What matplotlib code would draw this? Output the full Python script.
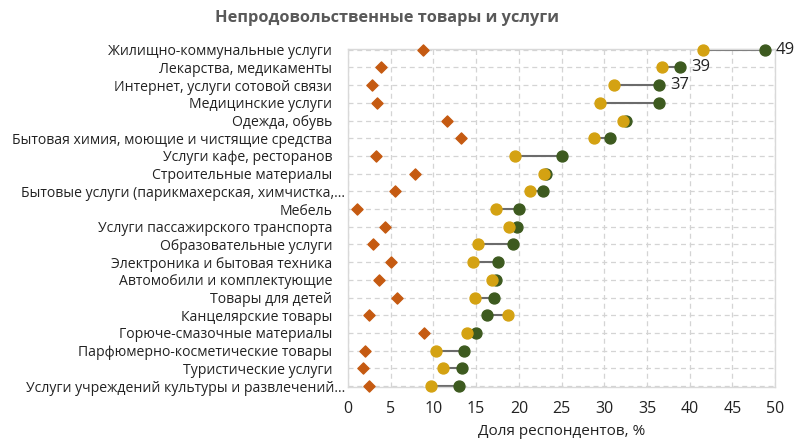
import numpy as np
from matplotlib import pyplot as plt
from matplotlib.transforms import ScaledTranslation

plt.rcParams['font.family'] = ['Open Sans', 'DejaVu Sans']

categories = [
    'Жилищно-коммунальные услуги',
    'Лекарства, медикаменты',
    'Интернет, услуги сотовой связи',
    'Медицинские услуги',
    'Одежда, обувь',
    'Бытовая химия, моющие и чистящие средства',
    'Услуги кафе, ресторанов',
    'Строительные материалы',
    'Бытовые услуги (парикмахерская, химчистка,…',
    'Мебель',
    'Услуги пассажирского транспорта',
    'Образовательные услуги',
    'Электроника и бытовая техника',
    'Автомобили и комплектующие',
    'Товары для детей',
    'Канцелярские товары',
    'Горюче-смазочные материалы',
    'Парфюмерно-косметические товары',
    'Туристические услуги',
    'Услуги учреждений культуры и развлечений…',
]

# доли респондентов, %
green_vals = [48.8, 38.9, 36.4, 36.4, 32.5, 30.7, 25.0, 23.2, 22.8, 20.0,
              19.8, 19.3, 17.6, 17.3, 17.1, 16.25, 15.0, 13.6, 13.4, 13.0]
yellow_vals = [41.5, 36.7, 31.1, 29.5, 32.2, 28.75, 19.6, 22.9, 21.25, 17.3,
               18.9, 15.2, 14.6, 16.8, 14.9, 18.7, 13.9, 10.3, 11.1, 9.7]
orange_vals = [8.8, 3.9, 2.8, 3.4, 11.6, 13.2, 3.3, 7.9, 5.5, 1.1,
               4.3, 2.9, 5.0, 3.6, 5.7, 2.4, 8.9, 2.0, 1.8, 2.4]
value_labels = {0: '49', 1: '39', 2: '37'}

c_green = '#3d5a1f'
c_yellow = '#d4a212'
c_orange = '#c55a11'
c_line = '#6b6b6b'

fig = plt.figure(figsize=(8, 4.4), dpi=100)
ax = fig.add_axes([0.435, 0.1205, 0.534, 0.7685])

y = np.arange(len(categories))

for i in y:
    ax.plot([yellow_vals[i], green_vals[i]], [i, i], color=c_line, lw=1.5,
            zorder=2, clip_on=False)
ax.scatter(orange_vals, y, marker='D', s=32, color=c_orange, zorder=3, clip_on=False)
ax.scatter(green_vals, y, marker='o', s=62, color=c_green, zorder=3, clip_on=False)
ax.scatter(yellow_vals, y, marker='o', s=62, color=c_yellow, zorder=4, clip_on=False)

for i, txt in value_labels.items():
    ax.text(green_vals[i] + 1.3, i, txt, va='center', ha='left', fontsize=12, color='#222222')

ax.set_xlim(0, 50)
ax.set_ylim(19.05, -0.05)
ax.set_xticks(np.arange(0, 51, 5))
ax.set_yticks(y)
ax.set_yticklabels(categories, fontsize=10.1)
ax.tick_params(axis='both', length=0, colors='#222222')
ax.tick_params(axis='x', labelsize=11.5, pad=10)
ax.tick_params(axis='y', pad=11.5)

# обрезанные подписи выступают правее остальных
shift = ScaledTranslation(0.13, 0, fig.dpi_scale_trans)
for lbl in ax.get_yticklabels():
    if lbl.get_text().endswith('…'):
        lbl.set_transform(lbl.get_transform() + shift)

ax.grid(True, color='#d4d4d4', linestyle=(0, (4, 3)), lw=0.9)
ax.set_axisbelow(True)
for s in ax.spines.values():
    s.set_color('#d9d9d9')
    s.set_linewidth(1.0)

ax.set_xlabel('Доля респондентов, %', fontsize=11, color='#222222', labelpad=5)
fig.text(0.484, 0.958, 'Непродовольственные товары и услуги', ha='center', va='center',
         fontsize=11.8, fontweight='bold', color='#595959')

plt.savefig('out.png')
plt.close()
